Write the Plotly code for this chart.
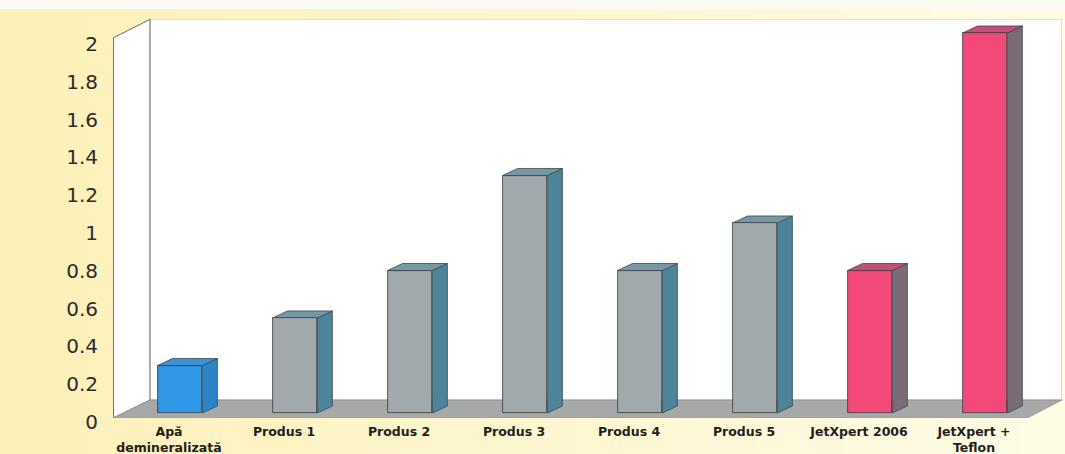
import plotly.graph_objects as go

# ---- data ----
categories = ["Apă<br>demineralizată", "Produs 1", "Produs 2", "Produs 3",
              "Produs 4", "Produs 5", "JetXpert 2006", "JetXpert +<br>Teflon"]
values = [0.25, 0.5, 0.75, 1.25, 0.75, 1.0, 0.75, 2.0]
groups = ["water", "product", "product", "product", "product", "product", "jet", "jet"]
y_ticks = [0, 0.2, 0.4, 0.6, 0.8, 1, 1.2, 1.4, 1.6, 1.8, 2]

# ---- style ----
front_col = {"water": "#2E97E6", "product": "#A2A9AD", "jet": "#F2487A"}
side_col = {"water": "#2A84C8", "product": "#4E8499", "jet": "#7B6B77"}
top_col = {"water": "#3A93D8", "product": "#7597A6", "jet": "#C44E77"}
BAR_W = 0.39
DX, DY = 0.13, 0.037          # pseudo-3D depth (axis units)
X_RANGE = [-0.5826, 7.6696]
Y_RANGE = [-0.0263, 2.0737]
Y2_RANGE = [-0.0005, 2.1111]
FLOOR_BACK_Y = 0.0684
WALL_BACK_X = -0.261
FLOOR_FRONT_RIGHT_X = 7.374
WALL_FRONT_TOP = 1.975

xs = list(range(len(categories)))

fig = go.Figure()
fig.add_trace(go.Bar(
    x=xs, y=values, width=BAR_W,
    marker=dict(color=[front_col[g] for g in groups],
                line=dict(color="#3a3a3a", width=0.8)),
    hoverinfo="skip", showlegend=False))
# invisible trace to hold the label axis
fig.add_trace(go.Scatter(x=xs, y=values, yaxis="y2", mode="markers",
                         marker=dict(opacity=0), hoverinfo="skip", showlegend=False))

shapes = []
# background gradient (left more yellow -> right paler)
n = 24
left_px, W = 113, 949
for i in range(n):
    t = i / (n - 1)
    r = 253 + int(2 * t)
    g = 241 + int(11 * t)
    b = 186 + int(44 * t)
    x0 = (i * 1065 / n - left_px) / W
    x1 = ((i + 1) * 1065 / n - left_px) / W + 0.002
    shapes.append(dict(type="rect", xref="paper", yref="paper", x0=x0, x1=x1,
                       y0=-0.1, y1=1.06, fillcolor=f"rgb({r},{g},{b})",
                       line=dict(width=0), layer="below"))
# white strip on the very top
shapes.append(dict(type="rect", xref="paper", yref="paper", x0=-0.13, x1=1.01,
                   y0=1.025, y1=1.06, fillcolor="#FBFAF3", line=dict(width=0), layer="below"))

# back wall
shapes.append(dict(type="rect", xref="x", yref="y", x0=WALL_BACK_X, x1=X_RANGE[1],
                   y0=FLOOR_BACK_Y, y1=Y_RANGE[1], fillcolor="white",
                   line=dict(color="#BDBDBD", width=1), layer="below"))
# left wall
shapes.append(dict(type="path", xref="x", yref="y",
                   path=f"M{X_RANGE[0]+0.004},{Y_RANGE[0]} L{WALL_BACK_X},{FLOOR_BACK_Y} "
                        f"L{WALL_BACK_X},{Y_RANGE[1]-0.002} L{X_RANGE[0]+0.004},{WALL_FRONT_TOP} Z",
                   fillcolor="white", line=dict(color="#6a6a6a", width=1), layer="below"))
# floor
shapes.append(dict(type="path", xref="x", yref="y",
                   path=f"M{X_RANGE[0]+0.004},{Y_RANGE[0]+0.002} L{FLOOR_FRONT_RIGHT_X},{Y_RANGE[0]+0.002} "
                        f"L{X_RANGE[1]},{FLOOR_BACK_Y} L{WALL_BACK_X},{FLOOR_BACK_Y} Z",
                   fillcolor="#A7A9A9", line=dict(color="#8f9191", width=0.8), layer="below"))

# 3D faces for bars
for x, v, g in zip(xs, values, groups):
    xl, xr = x - BAR_W / 2, x + BAR_W / 2
    shapes.append(dict(type="path", xref="x", yref="y",
                       path=f"M{xr},{0} L{xr+DX},{DY} L{xr+DX},{v+DY} L{xr},{v} Z",
                       fillcolor=side_col[g], line=dict(color="#3a4a50", width=0.8), layer="below"))
    shapes.append(dict(type="path", xref="x", yref="y",
                       path=f"M{xl},{v} L{xr},{v} L{xr+DX},{v+DY} L{xl+DX},{v+DY} Z",
                       fillcolor=top_col[g], line=dict(color="#3a4a50", width=0.8), layer="below"))

fig.update_layout(
    width=1065, height=454,
    margin=dict(l=113, r=3, t=19, b=36, autoexpand=False),
    paper_bgcolor="#FEF6D0",
    plot_bgcolor="rgba(0,0,0,0)",
    shapes=shapes,
    bargap=0,
    xaxis=dict(range=X_RANGE, tickvals=xs, ticktext=categories, showgrid=False,
               zeroline=False, showline=False, ticks="", ticklabelshift=-11,
               ticklabelstandoff=4, automargin=False,
               tickfont=dict(family="DejaVu Sans", size=12.5, color="#1e1e1e",
                             weight="bold")),
    yaxis=dict(range=Y_RANGE, showticklabels=False, showgrid=False, zeroline=False,
               showline=False, ticks="", automargin=False),
    yaxis2=dict(range=Y2_RANGE, overlaying="y", side="left", tickvals=y_ticks,
                ticktext=[f"{t:g}" for t in y_ticks], showgrid=False, zeroline=False,
                showline=False, ticks="", ticklabelstandoff=14, ticklabelshift=4,
                automargin=False,
                tickfont=dict(family="DejaVu Sans", size=20, color="#2b2b2b")),
)

fig.write_html("out.html", config={"displayModeBar": False},
               post_script="document.body.style.margin='0px';document.body.style.overflow='hidden';")
